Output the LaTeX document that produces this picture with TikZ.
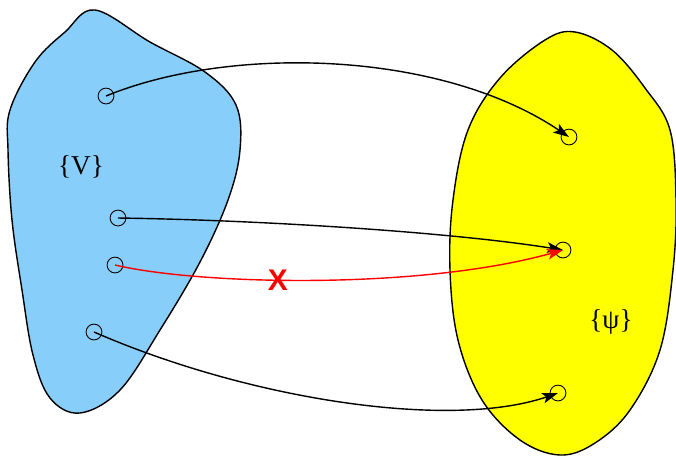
\documentclass[tikz,border=0pt]{standalone}
\usepackage{fontspec}
\setmainfont{Liberation Serif}
\newfontfamily\crossfont{Liberation Sans}
\usetikzlibrary{arrows.meta}
\begin{document}
\begin{tikzpicture}[x=0.02cm,y=-0.02cm,
        point/.style={draw,circle,inner sep=0pt,minimum size=9pt,line width=0.5pt},
        map/.style={thick,-{Stealth[length=9pt,width=6pt,inset=2pt]}},
        setlabel/.style={font=\fontsize{15.5}{18}\selectfont}]
    \useasboundingbox (0,0) rectangle (676,458);
    % domain
    \draw[thick,fill={rgb,255:red,135;green,206;blue,250}] plot[smooth cycle,tension=0.6] coordinates {
        (95,10) (150,42) (205,72) (236,105) (240,150) (228,200) (200,262) (160,330)
        (120,390) (80,413) (50,398) (33,355) (22,290) (12,220) (8,150) (10,110)
        (35,62) (65,32)};
    % codomain
    \draw[thick,fill={rgb,255:red,255;green,255;blue,0}] plot[smooth cycle,tension=0.6] coordinates {
        (575,32) (612,50) (645,88) (670,130) (676,200) (673,270) (660,350)
        (630,410) (595,443) (560,455) (520,440) (482,400) (458,340) (450,270)
        (453,200) (468,130) (500,78) (545,40)};
    \node[setlabel] (lv) at (81,167) {\{V\}};
    \node[setlabel] (lpsi) at (611,322) {\{ψ\}};
    % points
    \node[point] (v1) at (106,96) {};
    \node[point] (v2) at (118,218) {};
    \node[point] (v3) at (115,265) {};
    \node[point] (v4) at (94,332) {};
    \node[point] (w1) at (569,137) {};
    \node[point] (w2) at (563,250) {};
    \node[point] (w3) at (558,393) {};
    % maps
    \draw[map] (v1.center) .. controls (230,45) and (440,50) .. (w1.center);
    \draw[map] (v2.center) .. controls (260,220) and (450,232) .. (w2.center);
    \draw[map,red] (v3.center) .. controls (200,285) and (420,290) .. (w2.center)
        node[pos=0.42,text=red,font=\crossfont\bfseries\fontsize{17}{19}\selectfont] (no) {X};
    \draw[map] (v4.center) .. controls (250,400) and (450,430) .. (w3.center);
\end{tikzpicture}
\end{document}
